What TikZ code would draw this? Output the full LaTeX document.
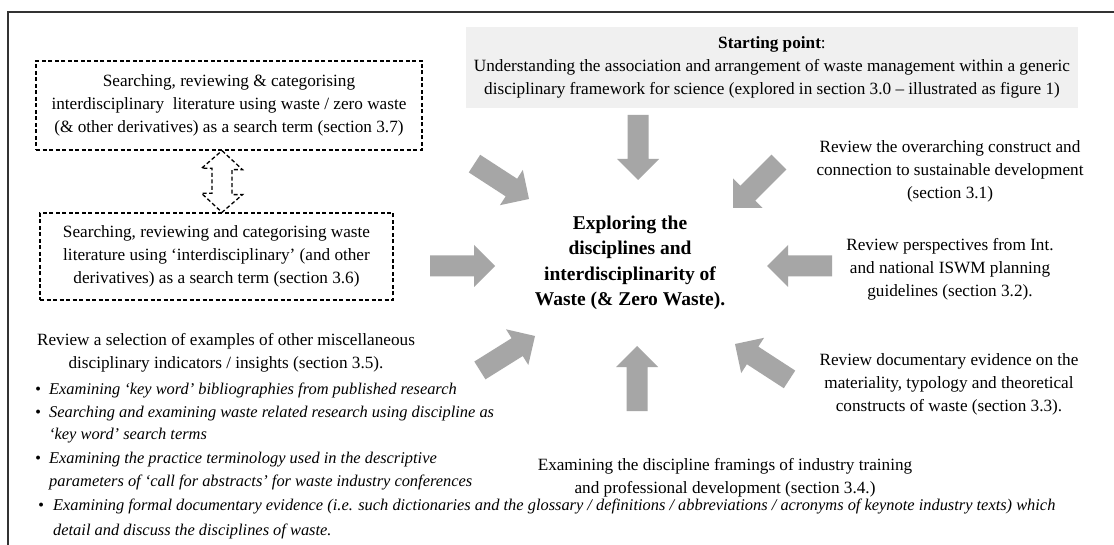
\documentclass[tikz,border=0pt]{standalone}
\usepackage{fontspec}
\setmainfont{Liberation Serif}
\usetikzlibrary{calc}
\definecolor{arrowgray}{HTML}{A6A6A6}
\definecolor{startfill}{HTML}{F0F0F0}
\definecolor{framegray}{HTML}{333333}

\begin{document}
\begin{tikzpicture}[x=1pt,y=1pt,
  txt/.style={align=center, inner sep=0pt, font=\fontsize{17.2}{23}\selectfont},
  hub/.style={align=center, inner sep=0pt, font=\fontsize{19.5}{25.5}\selectfont\bfseries},
  dashbox/.style={draw, dash pattern=on 4pt off 2.5pt, line width=1.3pt},
  item/.style={anchor=base west, inner sep=0pt, font=\fontsize{16.4}{20}\selectfont\itshape},
  blk/.pic={\fill[arrowgray] (0,0) -- (-21,21) -- (-21,10.5) -- (-65,10.5) -- (-65,-10.5) -- (-21,-10.5) -- (-21,-21) -- cycle;}
]
\useasboundingbox (0,0) rectangle (1114,-545);
\fill[white] (0,0) rectangle (1114,-545);

% frame
\draw[framegray, line width=2.5pt] (8,-545) -- (8,-12) -- (1114,-12);

% starting point
\node[txt, fill=startfill, minimum width=612, minimum height=81] (start) at (772,-67.5)
  {\textbf{Starting point}:\\
   Understanding the association and arrangement of waste management within a generic\\
   disciplinary framework for science (explored in section 3.0 – illustrated as figure 1)};

% dashed boxes on the left
\node[txt, dashbox, minimum width=386, minimum height=89] (lit) at (229,-105.5)
  {Searching, reviewing \& categorising\\
   interdisciplinary\ \ literature using waste / zero waste\\
   (\& other derivatives) as a search term (section 3.7)};
\node[txt, dashbox, minimum width=353, minimum height=87] (waste) at (216.5,-256.5)
  {Searching, reviewing and categorising waste\\
   literature using ‘interdisciplinary’ (and other\\
   derivatives) as a search term (section 3.6)};

% double block arrow between the dashed boxes
\coordinate (dtop) at ($(lit.south)+(-7,0)$);
\coordinate (dbot) at ($(waste.north)+(5.5,0)$);
\draw[dashbox] (dtop) -- ++(20.5,-19) -- ++(-10.5,0) -- ++(0,-25) -- ++(10.5,0)
  -- (dbot) -- ++(-20.5,19) -- ++(10.5,0) -- ++(0,25) -- ++(-10.5,0) -- cycle;

% hub
\node[hub] (hub) at (630,-263)
  {Exploring the\\ disciplines and\\ interdisciplinarity of\\ Waste (\& Zero Waste).};

% surrounding labels
\node[txt] (sd) at (950,-171)
  {Review the overarching construct and\\
   connection to sustainable development\\
   (section 3.1)};
\node[txt] (iswm) at (950,-269)
  {Review perspectives from Int.\\
   and national ISWM planning\\
   guidelines (section 3.2).};
\node[txt] (mat) at (949,-384)
  {Review documentary evidence on the\\
   materiality, typology and theoretical\\
   constructs of waste (section 3.3).};
\node[txt] (train) at (725,-478)
  {Examining the discipline framings of industry training\\
   and professional development (section 3.4.)};
\node[txt] (misc) at (226,-353)
  {Review a selection of examples of other miscellaneous\\
   disciplinary indicators / insights (section 3.5).};

% bullet list
\node[item] (i1) at (35,-394) {\makebox[14pt][l]{\textbullet}Examining ‘key word’ bibliographies from published research};
\node[item] (i2a) at (35,-417) {\makebox[14pt][l]{\textbullet}Searching and examining waste related research using discipline as};
\node[item] (i2b) at (49,-439) {‘key word’ search terms};
\node[item] (i3a) at (35,-463) {\makebox[14pt][l]{\textbullet}Examining the practice terminology used in the descriptive};
\node[item] (i3b) at (49,-486) {parameters of ‘call for abstracts’ for waste industry conferences};
\node[item] (i4a) at (38,-510) {\makebox[15pt][l]{\textbullet}Examining formal documentary evidence (i.e. such dictionaries and the glossary / definitions / abbreviations / acronyms of keynote industry texts) which};
\node[item] (i4b) at (53,-535) {detail and discuss the disciplines of waste.};

% block arrows pointing at the hub
\pic[rotate=-90] at (638,-180) {blk};
\pic[rotate=-33] at (529,-199) {blk};
\pic[rotate=-135] at (733,-208) {blk};
\pic[rotate=0] at (495,-266) {blk};
\pic[rotate=180] at (767,-266) {blk};
\pic[rotate=32] at (535,-336) {blk};
\pic[rotate=90] at (637,-346) {blk};
\pic[rotate=147] at (735,-344) {blk};
\end{tikzpicture}
\end{document}
